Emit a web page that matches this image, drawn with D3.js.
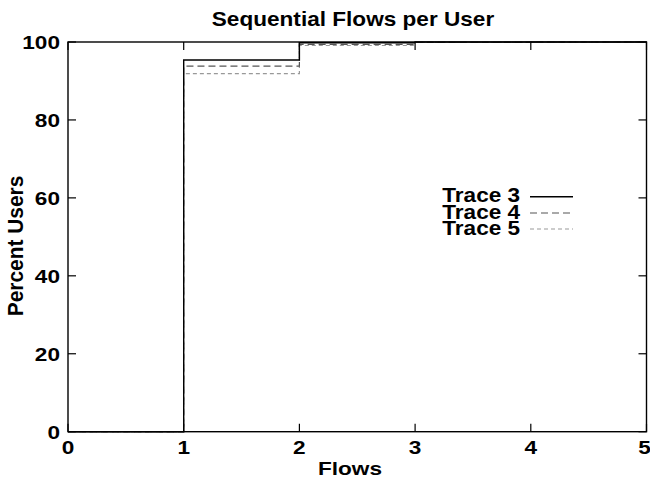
<!DOCTYPE html>
<html><head><meta charset="utf-8">
<script src="https://cdn.jsdelivr.net/npm/d3@7"></script>
<style>body{margin:0;background:#fff}svg{display:block}text{font-family:"Liberation Sans",Arial,sans-serif;font-weight:bold}</style>
</head><body><svg id="c" width="650" height="478"></svg>
<script>
const flows = [0, 1, 2, 3, 4, 5];
const trace3 = [0, 95.4, 99.8, 100, 100, 100];
const trace4 = [0, 93.8, 99.4, 99.9, 100, 100];
const trace5 = [0, 91.9, 99.1, 99.9, 99.95, 99.95];
const seriesNames = ["Trace 3", "Trace 4", "Trace 5"];
const xTicks = [0, 1, 2, 3, 4, 5];
const yTicks = [0, 20, 40, 60, 80, 100];

const svg = d3.select("#c");
const L = 68, R = 646.5, T = 42, B = 431.7;
const x = d3.scaleLinear().domain([0, 5]).range([L, R]);
const y = d3.scaleLinear().domain([0, 100]).range([B, T]);
const SX = 1.19;

function txt(px, py, s, size, anchor, sx, sy, rot) {
  return svg.append("text")
    .attr("transform", `translate(${px},${py})` + (rot ? ` rotate(${rot})` : "") + ` scale(${sx || SX},${sy || 1})`)
    .attr("text-anchor", anchor || "middle").style("font-size", size + "px").text(s);
}

txt(353, 25.5, "Sequential Flows per User", 20, "middle", 1.13, 1);

// ticks (inward, mirrored)
const tl = 8;
const g = svg.append("g").attr("stroke", "#000").attr("stroke-width", 1.2);
xTicks.forEach(t => {
  g.append("line").attr("x1", x(t)).attr("x2", x(t)).attr("y1", B).attr("y2", B - tl);
  g.append("line").attr("x1", x(t)).attr("x2", x(t)).attr("y1", T).attr("y2", T + tl);
});
yTicks.forEach(t => {
  g.append("line").attr("x1", L).attr("x2", L + tl).attr("y1", y(t)).attr("y2", y(t));
  g.append("line").attr("x1", R).attr("x2", R - tl).attr("y1", y(t)).attr("y2", y(t));
});

xTicks.forEach(t => {
  txt(Math.min(x(t), 644.5), 454, t, 19);
});
yTicks.forEach(t => {
  txt(60, y(t) + 7, t, 19, "end");
});

txt(350, 475, "Flows", 19);
txt(23, 246, "Percent Users", 19, "middle", 1.1, SX, -90);

const styles = [
  {data: trace3, color: "#000", dash: null, w: 1.4},
  {data: trace4, color: "#555", dash: "7,4", w: 1.2},
  {data: trace5, color: "#999", dash: "4,3", w: 1.2}
];
const line = d3.line().x((d, i) => x(flows[i])).y(d => y(d)).curve(d3.curveStepAfter);
styles.slice().reverse().forEach(s => {
  svg.append("path").attr("d", line(s.data)).attr("fill", "none")
    .attr("stroke", s.color).attr("stroke-width", s.w).attr("stroke-dasharray", s.dash);
});

// legend
const ly = [196.7, 213, 229];
styles.forEach((s, i) => {
  txt(520, ly[i] + 5.5, seriesNames[i], 20.5, "end", 1.1, 1);
  svg.append("line").attr("x1", 530).attr("x2", 573).attr("y1", ly[i]).attr("y2", ly[i])
    .attr("stroke", s.color).attr("stroke-width", s.w).attr("stroke-dasharray", s.dash);
});

svg.append("rect").attr("x", L).attr("y", T).attr("width", R - L).attr("height", B - T)
  .attr("fill", "none").attr("stroke", "#000").attr("stroke-width", 1.4);
</script></body></html>
